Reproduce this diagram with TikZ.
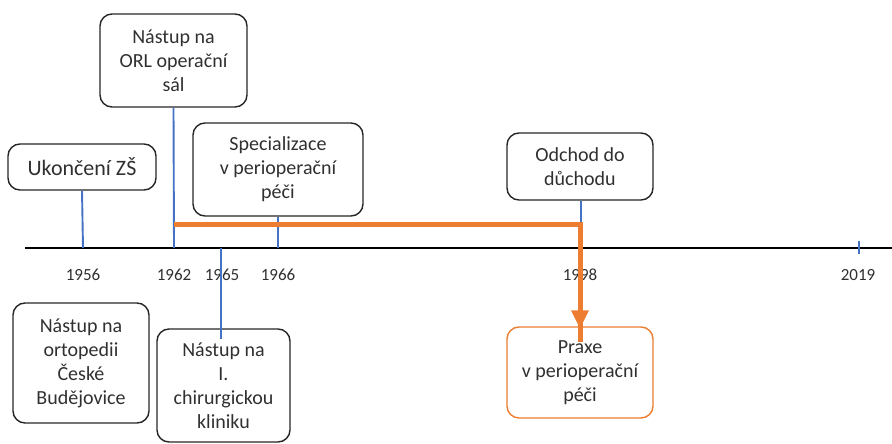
\documentclass[tikz,border=0pt]{standalone}
\usepackage{fontspec}
\setmainfont{Carlito}
\usetikzlibrary{arrows.meta}
\definecolor{tblue}{HTML}{4472C4}
\definecolor{torange}{HTML}{ED7D31}
\definecolor{ttext}{HTML}{303030}
\definecolor{tborder}{HTML}{262626}
\begin{document}
\begin{tikzpicture}[x=1pt,y=-1pt,
  evbox/.style={draw=tborder, line width=1.4pt, rounded corners=12pt, align=center,
    inner sep=0pt, text=ttext, font=\fontsize{20}{24}\selectfont},
  orbox/.style={evbox, draw=torange},
  yearlbl/.style={text=ttext, font=\fontsize{17}{20}\selectfont, inner sep=0pt},
  bline/.style={draw=tblue, line width=1.9pt},
  oline/.style={draw=torange, line width=5pt}]
\useasboundingbox (0,0) rectangle (892,444);
% axis
\coordinate (axL) at (25,248);
\coordinate (axR) at (892,248);
\draw[line width=2pt, black] (axL) -- (axR);
% boxes
\node[evbox, minimum width=147pt, minimum height=93pt] (orl) at (173.5,60.5) {Nástup na\\ORL operační\\sál};
\node[evbox, minimum width=148pt, minimum height=46pt, font=\fontsize{22}{26}\selectfont] (zs) at (82,167) {Ukončení ZŠ};
\node[evbox, minimum width=170pt, minimum height=93pt] (spec) at (278,169.5) {Specializace\\v perioperační\\péči};
\node[evbox, minimum width=146pt, minimum height=67pt] (odch) at (580,166.5) {Odchod do\\důchodu};
\node[orbox, minimum width=146pt, minimum height=91pt] (praxe) at (580,372.5) {Praxe\\v perioperační\\péči};
\node[evbox, minimum width=136pt, minimum height=120pt] (orto) at (81,363) {Nástup na\\ortopedii\\České\\Budějovice};
\node[evbox, minimum width=133pt, minimum height=113pt] (chir) at (223.5,385.5) {Nástup na\\I.\\chirurgickou\\kliniku};
% years
\node[yearlbl] (y56) at (83,275) {1956};
\node[yearlbl] (y62) at (174,275) {1962};
\node[yearlbl] (y65) at (222,275) {1965};
\node[yearlbl] (y66) at (278,275) {1966};
\node[yearlbl] (y98) at (580,275) {1998};
\node[yearlbl] (y19) at (858,275) {2019};
% ticks / connectors
\coordinate (t56) at (83,248);
\coordinate (t62) at (174,248);
\coordinate (t65) at (221,248);
\coordinate (t66) at (278,248);
\coordinate (t98) at (581,224);
\draw[bline] (zs.south) -- (t56);
\draw[bline] (orl.south) -- (t62);
\draw[bline] (spec.south) -- (t66);
\draw[bline] (odch.south -| t98) -- (t98);
\draw[bline] (t65) -- ([yshift=-11pt]chir.north -| t65);
\draw[bline] (859,241) coordinate (t19a) -- (859,254) coordinate (t19b);
% orange path
\coordinate (oa) at (174,224);
\coordinate (ob) at (580,224);
\draw[oline, line join=miter] (oa) -- (ob) -- ([yshift=-16pt]praxe.north -| ob);
\fill[torange] ([yshift=-2pt]praxe.north -| ob) -- ++(-9,-18) -- ++(18,0) -- cycle;
\end{tikzpicture}
\end{document}
